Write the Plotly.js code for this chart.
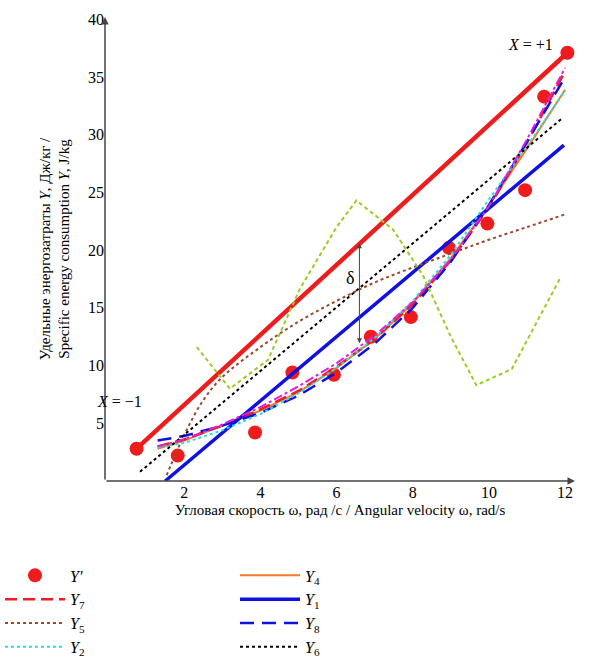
<!DOCTYPE html>
<html><head><meta charset="utf-8">
<script src="https://cdn.plot.ly/plotly-3.0.1.min.js"></script>
<style>body{margin:0;background:#fff}#chart{width:609px;height:657px}</style>
</head><body><div id="chart"></div>
<script>
// экспериментальные точки
var wExp = [0.75, 1.83, 3.86, 4.84, 5.93, 6.9, 7.95, 8.95, 9.96, 10.95, 11.45, 12.06];
var yExp = [2.8, 2.2, 4.2, 9.4, 9.2, 12.5, 14.2, 20.2, 22.3, 25.2, 33.3, 37.1];

// границы X = -1 / X = +1
var wLim = [0.75, 12.06];
var yLim = [2.8, 37.1];

var wY1 = [1.5, 11.97], yY1 = [0, 29.1];
var wY6 = [0.84, 11.95], yY6 = [0.8, 31.5];

var wPoly = [1.3, 2, 3, 4, 5, 6, 7, 8, 9, 10, 11, 12];
var yY2 = [2.9, 3.3, 4.4, 5.8, 7.6, 9.8, 12.4, 15.6, 19.6, 24.4, 29.0, 33.8];
var yY3 = [3.0, 3.6, 4.9, 6.4, 8.2, 10.2, 12.6, 15.5, 19.2, 23.8, 29.6, 35.8];
var yY4 = [2.8, 3.5, 4.8, 6.1, 7.7, 9.8, 12.3, 15.4, 19.3, 23.9, 28.8, 33.9];
var yY7 = [3.0, 3.6, 4.8, 6.2, 7.8, 9.9, 12.3, 15.3, 19.1, 23.7, 29.3, 35.5];
var yY8 = [3.5, 3.9, 4.8, 5.9, 7.4, 9.4, 11.9, 15.0, 19.0, 23.9, 29.4, 35.0];

var wY5 = [1.54, 2, 2.5, 3, 4, 5, 6, 7, 8, 9, 10, 11, 12];
var yY5 = [0.5, 4, 7, 9, 11.6, 13.8, 15.6, 17.2, 18.5, 19.7, 20.9, 22, 23.1];

var wY9 = [2.33, 3.2, 4.2, 5.03, 6.0, 6.52, 7.48, 8.27, 9.0, 9.67, 10.6, 11.86];
var yY9 = [11.6, 8.0, 10.5, 16.6, 22.0, 24.3, 21.8, 17.8, 12.5, 8.3, 9.7, 17.5];

var xTicks = [2, 4, 6, 8, 10, 12];
var yTicks = [5, 10, 15, 20, 25, 30, 35, 40];

function sub(n) { return '<i>Y</i><sub>' + n + '</sub>'; }

var data = [
  {x: wLim, y: yLim, mode: 'lines+markers', line: {color: '#ee1c1c', width: 4.5},
   marker: {color: '#ee1c1c', size: 13}, showlegend: false, hoverinfo: 'skip'},
  {x: wExp, y: yExp, mode: 'markers', name: "<i>Y'</i>", legendrank: 1,
   marker: {color: '#ee1c1c', size: 14}},
  {x: wPoly, y: yY4, mode: 'lines', name: sub(4), legendrank: 2, line: {color: '#f07a2a', width: 2}},
  {x: wPoly, y: yY7, mode: 'lines', name: sub(7), legendrank: 3, line: {color: '#ee1c1c', width: 2.5, dash: '12px,6px'}},
  {x: wY1, y: yY1, mode: 'lines', name: sub(1), legendrank: 4, line: {color: '#1010e0', width: 3.5}},
  {x: wY5, y: yY5, mode: 'lines', name: sub(5), legendrank: 5, line: {color: '#9a4a2a', width: 2, dash: 'dot', shape: 'spline'}},
  {x: wPoly, y: yY8, mode: 'lines', name: sub(8), legendrank: 6, line: {color: '#1010e0', width: 2.5, dash: '14px,8px'}},
  {x: wPoly, y: yY2, mode: 'lines', name: sub(2), legendrank: 7, line: {color: '#22e0e8', width: 2, dash: 'dot'}},
  {x: wY6, y: yY6, mode: 'lines', name: sub(6), legendrank: 8, line: {color: '#000', width: 2, dash: 'dot'}},
  {x: wY9, y: yY9, mode: 'lines', name: sub(9), legendrank: 9, line: {color: '#9acd22', width: 2, dash: '4px,3px'}},
  {x: wPoly, y: yY3, mode: 'lines', name: sub(3), legendrank: 10, line: {color: '#e020e0', width: 2, dash: 'dashdot'}}
];

var serif = 'Liberation Serif, Times New Roman, serif';
var layout = {
  width: 609, height: 657,
  margin: {l: 105, r: 34, t: 17, b: 176, autoexpand: false},
  paper_bgcolor: '#fff', plot_bgcolor: '#fff',
  font: {family: serif, size: 15, color: '#000'},
  xaxis: {range: [-0.08, 12.26], tickvals: xTicks, showgrid: false, zeroline: false,
          showline: false, ticks: '', tickfont: {size: 16},
          title: {text: 'Угловая скорость ω, рад /с / Angular velocity ω, rad/s', font: {size: 15}, standoff: 4}},
  yaxis: {range: [0, 40.2], tickvals: yTicks, showgrid: false, zeroline: false,
          showline: false, ticks: '', tickfont: {size: 16},
          title: {text: 'Удельные энергозатраты <i>Y</i>, Дж/кг /<br>Specific energy consumption <i>Y</i>, J/kg', font: {size: 15}, standoff: 14}},
  legend: {orientation: 'h', x: 0.0, xref: 'container', y: 0.15, yref: 'container', yanchor: 'top',
           entrywidth: 160, traceorder: 'normal', font: {size: 16}, itemwidth: 60},
  annotations: [
    {x: 12.26, y: 0, ax: -0.08, ay: 0, xref: 'x', yref: 'y', axref: 'x', ayref: 'y',
     showarrow: true, arrowhead: 2, arrowsize: 1, arrowwidth: 1.5, text: ''},
    {x: -0.08, y: 40.2, ax: -0.08, ay: 0, xref: 'x', yref: 'y', axref: 'x', ayref: 'y',
     showarrow: true, arrowhead: 2, arrowsize: 1, arrowwidth: 1.5, text: ''},
    {x: 6.6, y: 20.6, ax: 6.6, ay: 11.8, xref: 'x', yref: 'y', axref: 'x', ayref: 'y',
     showarrow: true, arrowhead: 2, arrowside: 'end+start', arrowwidth: 1, text: ''},
    {x: 6.35, y: 17.6, text: 'δ', showarrow: false, font: {size: 18}},
    {x: 0.3, y: 6.9, text: '<i>X</i> = −1', showarrow: false, font: {size: 16}},
    {x: 11.1, y: 37.8, text: '<i>X</i> = +1', showarrow: false, font: {size: 16}},
    {x: -0.5, y: -1.5, text: '0', showarrow: false, font: {size: 16}}
  ]
};

Plotly.newPlot('chart', data, layout, {displayModeBar: false, staticPlot: true});
</script></body></html>
